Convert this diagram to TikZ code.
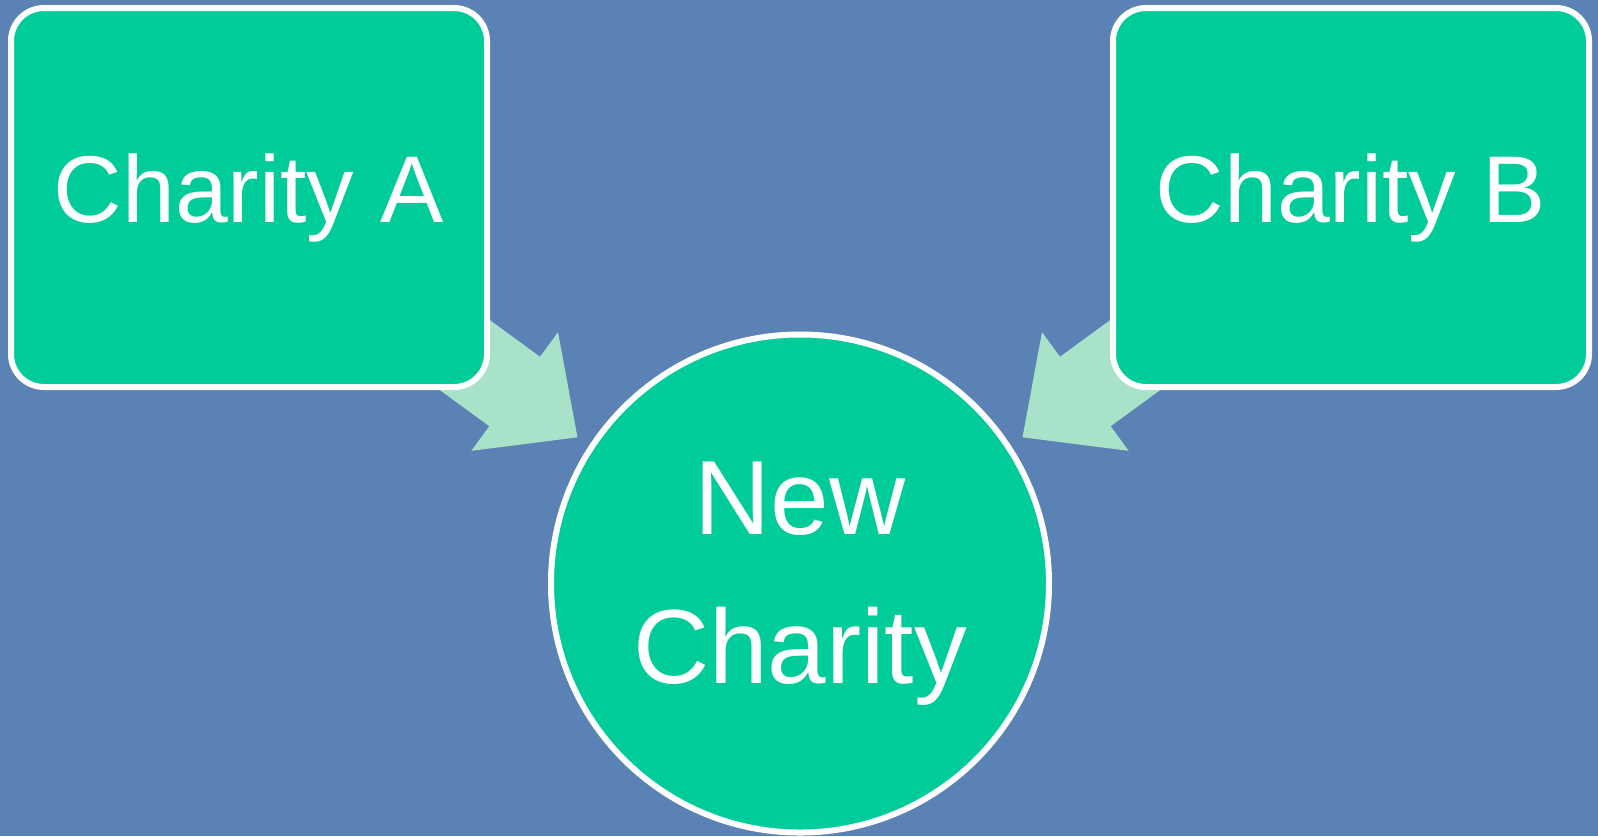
\documentclass[tikz,border=0pt]{standalone}
\usepackage{fontspec}
\setmainfont{Liberation Sans}
\usetikzlibrary{arrows.meta, calc, positioning}
\definecolor{slideblue}{HTML}{5B82B5}
\definecolor{charitygreen}{HTML}{00CC99}
\definecolor{mergegreen}{HTML}{A8E2C8}
\pgfdeclarelayer{bg}
\pgfdeclarelayer{arrowlayer}
\pgfsetlayers{bg,arrowlayer,main}
\tikzstyle{charity}=[rectangle, rounded corners=0.33cm, draw=white, fill=charitygreen, line width=0.06cm, minimum width=4.76cm, minimum height=3.79cm, text=white, font=\fontsize{27}{32}\selectfont]
\tikzstyle{merged}=[circle, draw=white, fill=charitygreen, line width=0.06cm, minimum size=4.98cm, inner sep=0pt, text=white, align=center, font=\fontsize{30}{42.5}\selectfont]
\tikzstyle{merge}=[draw=mergegreen, line width=0.86cm, -{Triangle[length=7.8mm 0, width=14.2mm 0]}]

\begin{document}
\begin{tikzpicture}
      \useasboundingbox (0,0) rectangle (15.98,-8.36);
      \begin{pgfonlayer}{bg}
            \fill[slideblue] (0,0) rectangle (15.98,-8.36);
      \end{pgfonlayer}

      \node[merged] (newc) at (8.00,-5.835) {New\\Charity};
      \node[charity] (charA) at (2.49,-1.975) {Charity A};
      \node[charity] (charB) at (13.51,-1.975) {Charity B};

      \coordinate (tipA) at ($(newc.center)+(146.7:2.66)$);
      \coordinate (tipB) at ($(newc.center)+(33.3:2.66)$);

      \begin{pgfonlayer}{arrowlayer}
            \draw[merge] (charA.center) -- (tipA);
            \draw[merge] (charB.center) -- (tipB);
      \end{pgfonlayer}
    \end{tikzpicture}
\end{document}
